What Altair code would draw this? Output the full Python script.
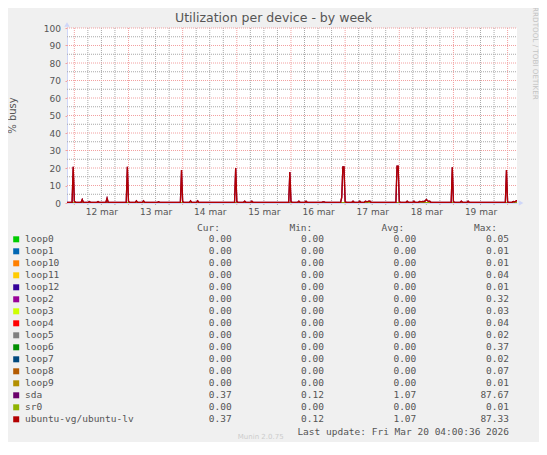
import json
from datetime import datetime
import altair as alt
import pandas as pd

TITLE = "Utilization per device - by week"
Y_TITLE = "% busy"
SIDE_TEXT = "RRDTOOL / TOBI OETIKER"
LAST_UPDATE = "Last update: Fri Mar 20 04:00:36 2026"
FOOTER = "Munin 2.0.75"

# time window of the plot (UTC)
X_START = "2026-03-11T20:45:00Z"
X_END = "2026-03-20T04:10:00Z"

# x tick labels (centred at noon of each day)
X_TICK_TIMES = ["2026-03-%02dT12:00:00Z" % d for d in range(12, 20)]
X_TICK_LABELS = ["12 mar", "13 mar", "14 mar", "15 mar", "16 mar", "17 mar", "18 mar", "19 mar"]
# grid positions
X_MAJOR = ["2026-03-%02dT00:00:00Z" % d for d in range(12, 21)]
X_MINOR = ["2026-03-%02dT%02d:00:00Z" % (d, h) for d in range(12, 20) for h in (6, 12, 18)]
Y_TICKS = [0, 10, 20, 30, 40, 50, 60, 70, 80, 90, 100]
Y_MAJOR = [10, 20, 30, 40, 50, 60, 70, 80, 90, 100]
Y_MINOR = [5, 15, 25, 35, 45, 55, 65, 75, 85, 95]

# series (Munin default palette order)
NAMES = ["loop0", "loop1", "loop10", "loop11", "loop12", "loop2", "loop3", "loop4",
         "loop5", "loop6", "loop7", "loop8", "loop9", "sda", "sr0", "ubuntu-vg/ubuntu-lv"]
COLORS = ["#00CC00", "#0066B3", "#FF8000", "#FFCC00", "#330099", "#990099", "#CCFF00", "#FF0000",
          "#808080", "#008F00", "#00487D", "#B35A00", "#B38F00", "#6B006B", "#8FB300", "#B30000"]
CUR = [0.00, 0.00, 0.00, 0.00, 0.00, 0.00, 0.00, 0.00, 0.00, 0.00, 0.00, 0.00, 0.00, 0.37, 0.00, 0.37]
MIN = [0.00, 0.00, 0.00, 0.00, 0.00, 0.00, 0.00, 0.00, 0.00, 0.00, 0.00, 0.00, 0.00, 0.12, 0.00, 0.12]
AVG = [0.00, 0.00, 0.00, 0.00, 0.00, 0.00, 0.00, 0.00, 0.00, 0.00, 0.00, 0.00, 0.00, 1.07, 0.00, 1.07]
MAX = [0.05, 0.01, 0.01, 0.04, 0.01, 0.32, 0.03, 0.04, 0.02, 0.37, 0.02, 0.07, 0.01, 87.67, 0.01, 87.33]
HEADERS = ["Cur:", "Min:", "Avg:", "Max:"]

# weekly % busy of ubuntu-vg/ubuntu-lv (sda reads the same), "day hh:mm" in March 2026
LV_TIMES = [
    "11 20:45", "11 23:00", "11 23:30", "12 00:00", "12 00:30",
    "12 03:00", "12 03:30", "12 04:00", "12 06:10", "12 06:40", "12 07:10",
    "12 10:00", "12 10:30", "12 11:00", "12 14:00", "12 14:30", "12 15:00",
    "12 23:00", "12 23:30", "13 00:00", "13 00:30",
    "13 03:00", "13 03:30", "13 04:00", "13 06:10", "13 06:40", "13 07:10",
    "13 12:50", "13 13:20", "13 13:50",
    "13 23:00", "13 23:30", "14 00:00", "14 00:30",
    "14 03:00", "14 03:30", "14 04:00", "14 06:10", "14 06:40", "14 07:10",
    "14 23:00", "14 23:30", "15 00:00", "15 00:30",
    "15 03:00", "15 03:30", "15 04:00", "15 06:10", "15 06:40", "15 07:10",
    "15 23:00", "15 23:30", "16 00:00", "16 00:30",
    "16 03:00", "16 03:30", "16 04:00", "16 06:10", "16 06:40", "16 07:10",
    "16 13:40", "16 14:10", "16 14:40", "16 15:10",
    "16 22:00", "16 22:30", "16 23:00", "16 23:30", "17 00:00", "17 00:30",
    "17 03:00", "17 03:30", "17 04:00", "17 06:00", "17 06:30", "17 07:00",
    "17 08:30", "17 09:00", "17 09:30", "17 10:00", "17 10:30", "17 11:00", "17 11:30",
    "17 22:30", "17 23:00", "17 23:30", "18 00:00", "18 00:30",
    "18 03:00", "18 03:30", "18 04:00", "18 06:00", "18 06:30", "18 07:00",
    "18 08:30", "18 09:00", "18 09:30", "18 10:00", "18 10:30", "18 11:00", "18 11:30",
    "18 12:00", "18 12:30", "18 13:00", "18 13:30", "18 14:00",
    "18 23:00", "18 23:30", "19 00:00", "19 00:30",
    "19 03:00", "19 03:30", "19 04:00", "19 06:00", "19 06:30", "19 07:00",
    "19 23:00", "19 23:30", "20 00:00", "20 00:30",
    "20 02:00", "20 02:30", "20 03:00", "20 03:30", "20 04:00", "20 04:10",
]
LV_VALUES = [
    0.4, 0.4, 20.7, 1.0, 0.4,
    0.4, 2.0, 0.4, 0.4, 0.8, 0.4,
    0.4, 0.8, 0.4, 0.4, 2.7, 0.4,
    0.4, 20.7, 0.9, 0.4,
    0.4, 1.2, 0.4, 0.4, 1.2, 0.4,
    0.4, 0.7, 0.4,
    0.4, 18.9, 0.8, 0.4,
    0.4, 1.2, 0.4, 0.4, 1.2, 0.4,
    0.4, 20.0, 0.8, 0.4,
    0.4, 1.0, 0.4, 0.4, 1.0, 0.4,
    0.4, 17.7, 0.8, 0.4,
    0.4, 1.0, 0.4, 0.4, 1.0, 0.4,
    0.4, 0.7, 0.7, 0.4,
    0.4, 3.2, 20.7, 20.7, 0.8, 0.4,
    0.4, 1.0, 0.4, 0.4, 1.0, 0.4,
    0.4, 1.0, 0.8, 0.8, 1.0, 1.1, 0.4,
    0.4, 21.1, 21.1, 0.8, 0.4,
    0.4, 1.0, 0.4, 0.4, 1.0, 0.4,
    0.4, 0.9, 0.8, 0.8, 0.9, 0.8, 1.2,
    2.0, 1.3, 0.9, 1.0, 0.4,
    0.4, 20.4, 0.8, 0.4,
    0.4, 1.0, 0.4, 0.4, 1.0, 0.4,
    0.4, 18.8, 0.6, 0.4,
    0.4, 0.9, 0.7, 0.9, 1.3, 1.3,
]

FONT = "DejaVu Sans"
MONO = "DejaVu Sans Mono"
TEXT_COLOR = "#555555"
AXIS_COLOR = "#CFD6F8"
MGRID = "#F2A0A0"
GRID = "#A8A8A8"


def ms(iso):
    return int(datetime.fromisoformat(iso.replace("Z", "+00:00")).timestamp() * 1000)


def iso_of(s):
    d, hm = s.split()
    return "2026-03-%02dT%s:00Z" % (int(d), hm)


W, H = 450, 175

xs = alt.Scale(type="utc", domain=[ms(X_START), ms(X_END)], nice=False)
ys = alt.Scale(domain=[0, 100], nice=False, zero=True)

t0 = ms(X_TICK_TIMES[0])
label_expr = "%s[round((datum.value - %d) / 86400000)]" % (json.dumps(X_TICK_LABELS), t0)
x_axis = alt.Axis(values=[ms(t) for t in X_TICK_TIMES], labelExpr=label_expr, title=None,
                  grid=False, ticks=False, domainColor=AXIS_COLOR, domainWidth=1,
                  labelFont=FONT, labelFontSize=9, labelColor=TEXT_COLOR, labelPadding=4,
                  labelFlush=False, labelOverlap=False, orient="bottom")
y_axis = alt.Axis(values=Y_TICKS, title=None, grid=False, tickSize=2, tickColor=MGRID,
                  domainColor=AXIS_COLOR, domainWidth=1, labelFont=FONT, labelFontSize=9,
                  labelColor=TEXT_COLOR, labelPadding=4.5, labelFlush=False, labelOverlap=False)

# grid
vminor = alt.Chart(pd.DataFrame({"t": X_MINOR})).mark_rule(
    color=GRID, strokeDash=[1, 1], strokeWidth=1).encode(
    x=alt.X("t:T", scale=xs, axis=x_axis), y=alt.value(0), y2=alt.value(H + 2))
hminor = alt.Chart(pd.DataFrame({"v": Y_MINOR})).mark_rule(
    color=GRID, strokeDash=[1, 1], strokeWidth=1).encode(
    y=alt.Y("v:Q", scale=ys, axis=None), x=alt.value(0), x2=alt.value(W))
vmajor = alt.Chart(pd.DataFrame({"t": X_MAJOR})).mark_rule(
    color=MGRID, strokeDash=[1, 1], strokeWidth=1).encode(
    x=alt.X("t:T", scale=xs, axis=x_axis), y=alt.value(0), y2=alt.value(H + 2))
hmajor = alt.Chart(pd.DataFrame({"v": Y_MAJOR})).mark_rule(
    color=MGRID, strokeDash=[1, 1], strokeWidth=1).encode(
    y=alt.Y("v:Q", scale=ys, axis=y_axis), x=alt.value(0), x2=alt.value(W))

color_scale = alt.Scale(domain=NAMES, range=COLORS)

# zero series (everything except sda and ubuntu-vg/ubuntu-lv)
zero_rows = []
order_zero = [n for n in NAMES if n not in ("sda", "ubuntu-vg/ubuntu-lv")]
for n in order_zero:
    zero_rows.append({"name": n, "t": X_START, "v": 0.0})
    zero_rows.append({"name": n, "t": X_END, "v": 0.0})
zero_lines = alt.Chart(pd.DataFrame(zero_rows)).mark_line(strokeWidth=1.3, clip=True).encode(
    x=alt.X("t:T", scale=xs, axis=x_axis),
    y=alt.Y("v:Q", scale=ys, axis=None),
    color=alt.Color("name:N", scale=color_scale, legend=None),
)

lv_df = pd.DataFrame({"t": [iso_of(s) for s in LV_TIMES], "v": LV_VALUES})
sda_line = alt.Chart(lv_df).mark_line(strokeWidth=1.3, clip=True, color=COLORS[13]).encode(
    x=alt.X("t:T", scale=xs, axis=x_axis), y=alt.Y("v:Q", scale=ys, axis=None))
lv_line = alt.Chart(lv_df).mark_line(strokeWidth=1.3, clip=True, color=COLORS[15]).encode(
    x=alt.X("t:T", scale=xs, axis=x_axis), y=alt.Y("v:Q", scale=ys, axis=None))

# axis arrows
one = pd.DataFrame({"k": [0]})
arrow_up = alt.Chart(one).mark_point(shape="triangle-up", filled=True, color=AXIS_COLOR,
                                     size=30, opacity=1).encode(x=alt.value(0), y=alt.value(-3.5))
arrow_right = alt.Chart(one).mark_point(shape="triangle-right", filled=True, color=AXIS_COLOR,
                                        size=30, opacity=1).encode(x=alt.value(W + 4), y=alt.value(H))


def label(text, x, y, size, color=TEXT_COLOR, font=FONT, align="center", baseline="middle", angle=0):
    kw = dict(font=font, fontSize=size, color=color, align=align, baseline=baseline)
    if angle:
        kw["angle"] = angle
    return alt.Chart(pd.DataFrame({"s": [text]})).mark_text(**kw).encode(
        text="s:N", x=alt.value(x), y=alt.value(y))


title = label(TITLE, 206.5, -5.6, 12.5, baseline="alphabetic")
ytitle = label(Y_TITLE, -54, 87.5, 10, angle=270)
side = label(SIDE_TEXT, 468, 25.4, 7.2, color="#C4C4C4", angle=90)
last = label(LAST_UPDATE, 442, 403.7, 9.5, font=MONO, align="right")
footer = label(FOOTER, 193.7, 408.5, 7, color="#CCCCCC")

header_x = [153, 245.3, 337.3, 430]
headers = [label(h, x, 199.7, 9.5, font=MONO, align="right") for h, x in zip(HEADERS, header_x)]

leg = pd.DataFrame({"name": NAMES, "cur": CUR, "min": MIN, "avg": AVG, "max": MAX})
row_scale = alt.Scale(type="point", domain=NAMES, range=[211.3, 391.3], padding=0)
row_y = alt.Y("name:N", scale=row_scale, axis=None, sort=NAMES)
swatch = alt.Chart(leg).mark_square(size=36, opacity=1).encode(
    x=alt.value(-50.8), y=row_y, color=alt.Color("name:N", scale=color_scale, legend=None))
names_txt = alt.Chart(leg).mark_text(font=MONO, fontSize=9.5, color=TEXT_COLOR, align="left",
                                     baseline="middle").encode(
    x=alt.value(-42), y=row_y, text="name:N")
cols = []
for field, x in zip(["cur", "min", "avg", "max"], [164.7, 257, 349.3, 442]):
    cols.append(alt.Chart(leg).mark_text(font=MONO, fontSize=9.5, color=TEXT_COLOR, align="right",
                                         baseline="middle").encode(
        x=alt.value(x), y=row_y, text=alt.Text(field + ":Q", format=".2f")))

chart = alt.layer(
    vminor, hminor, vmajor, hmajor, zero_lines, sda_line, lv_line, arrow_up, arrow_right,
    title, ytitle, side, last, footer, *headers, swatch, names_txt, *cols,
).resolve_scale(y="independent").properties(
    width=W, height=H,
    autosize=alt.AutoSizeParams(type="none"),
    padding={"left": 59, "top": 20, "right": 22, "bottom": 239},
    background="#F0F0F0",
).configure_view(fill="white", stroke="transparent", strokeWidth=0)

chart.save("out.html", embed_options={"renderer": "svg", "actions": False})
